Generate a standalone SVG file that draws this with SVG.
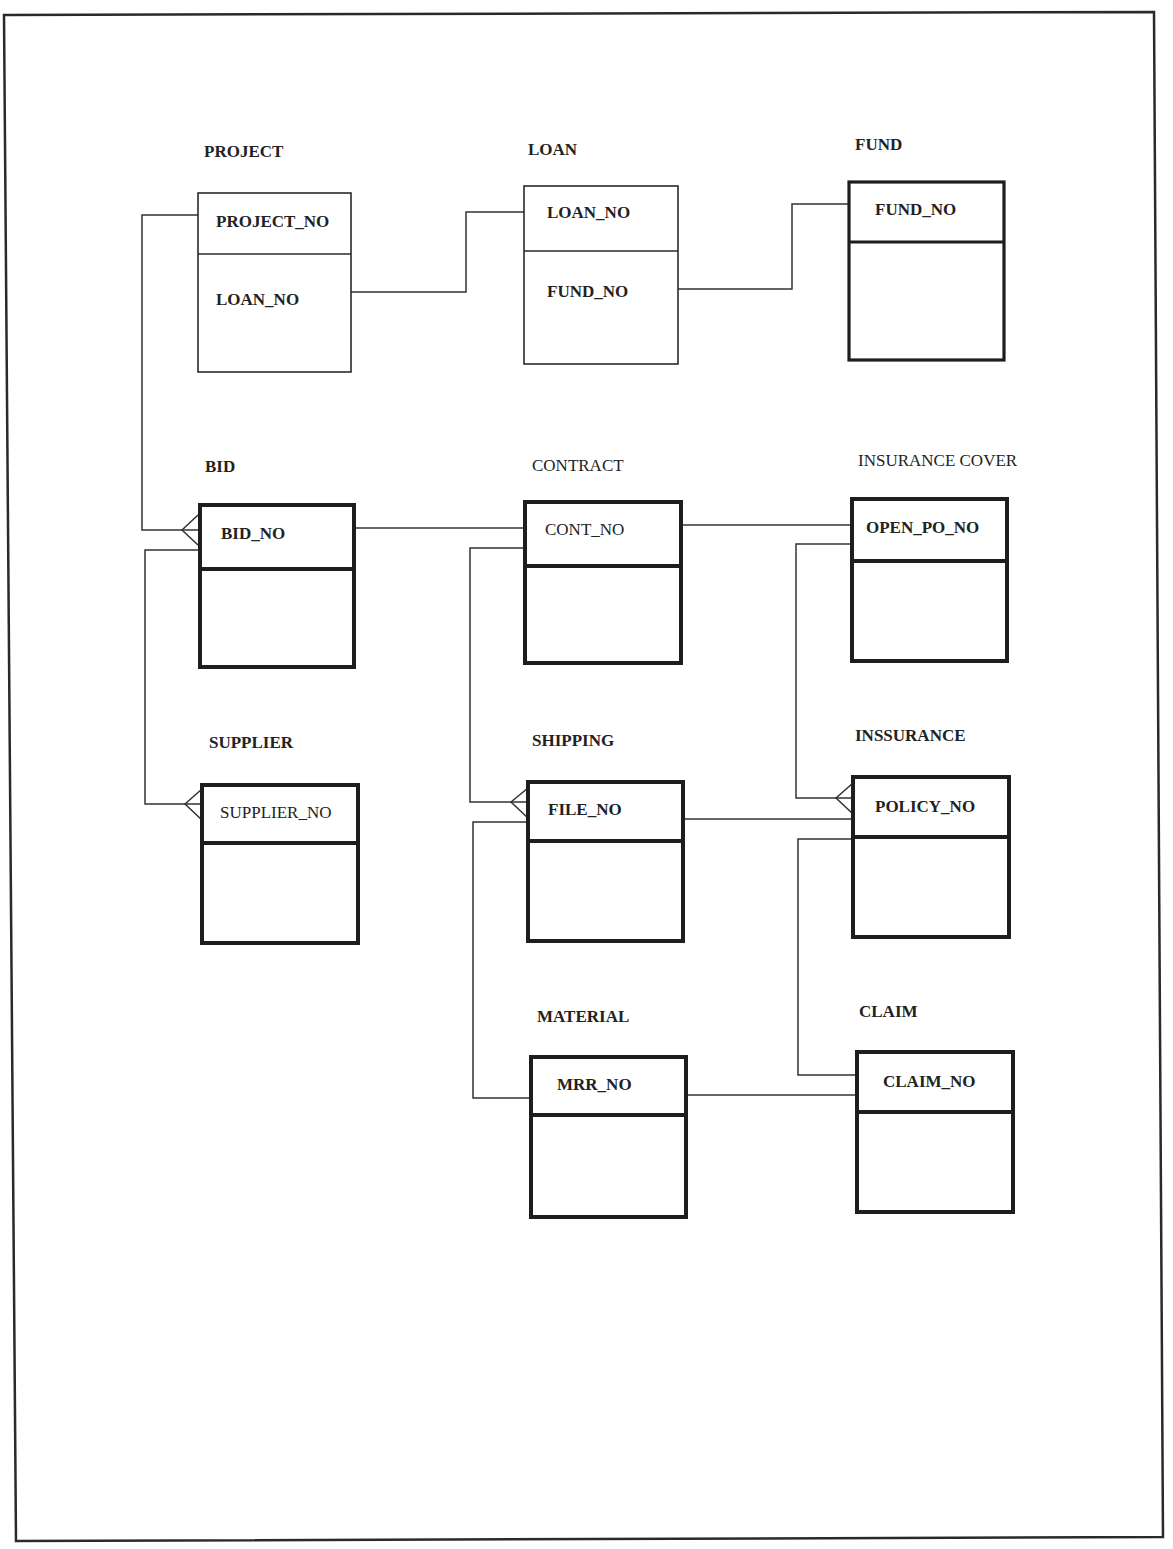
<svg xmlns="http://www.w3.org/2000/svg" width="1173" height="1549" viewBox="0 0 1173 1549">
<style>
  .bg { fill: #ffffff; }
  .frame { fill: none; stroke: #2a2a2a; stroke-width: 2.5; }
  .thin { fill: #ffffff; stroke: #2a2a2a; stroke-width: 1.6; }
  .thinl { stroke: #2a2a2a; stroke-width: 1.6; }
  .thick { fill: #ffffff; stroke: #1e1e1e; stroke-width: 4; }
  .thickl { stroke: #1e1e1e; stroke-width: 4; }
  .mid { fill: #ffffff; stroke: #1e1e1e; stroke-width: 3.2; }
  .midl { stroke: #1e1e1e; stroke-width: 3.2; }
  .conn { fill: none; stroke: #333333; stroke-width: 1.5; }
  text { font-family: "Liberation Serif", "Times New Roman", serif; font-size: 17px; fill: #222222; }
  .b { font-weight: bold; }
</style>
<rect class="bg" x="0" y="0" width="1173" height="1549"/>
<polygon class="frame" points="4,15 1154,12 1163,1537 16,1541"/>

<g id="connectors">
  <path class="conn" d="M198,215 H142 V530 H198"/>
  <path class="conn" d="M198,515 L182,530 L198,545"/>
  <path class="conn" d="M200,550 H145 V804 H202"/>
  <path class="conn" d="M202,789 L185,804 L202,820"/>
  <path class="conn" d="M351,292 H466 V212 H524"/>
  <path class="conn" d="M678,289 H792 V204 H849"/>
  <path class="conn" d="M354,528 H525"/>
  <path class="conn" d="M681,525 H852"/>
  <path class="conn" d="M525,548 H470 V802 H528"/>
  <path class="conn" d="M528,788 L511,802 L528,818"/>
  <path class="conn" d="M528,822 H473 V1098 H531"/>
  <path class="conn" d="M683,819 H853"/>
  <path class="conn" d="M852,544 H796 V798 H853"/>
  <path class="conn" d="M853,783 L836,798 L853,814"/>
  <path class="conn" d="M853,839 H798 V1075 H857"/>
  <path class="conn" d="M686,1095 H857"/>
</g>

<g id="project">
  <text class="b" x="204" y="157">PROJECT</text>
  <rect class="thin" x="198" y="193" width="153" height="179"/>
  <line class="thinl" x1="198" y1="254" x2="351" y2="254"/>
  <text class="b" x="216" y="227">PROJECT_NO</text>
  <text class="b" x="216" y="305">LOAN_NO</text>
</g>

<g id="loan">
  <text class="b" x="528" y="155">LOAN</text>
  <rect class="thin" x="524" y="186" width="154" height="178"/>
  <line class="thinl" x1="524" y1="251" x2="678" y2="251"/>
  <text class="b" x="547" y="218">LOAN_NO</text>
  <text class="b" x="547" y="297">FUND_NO</text>
</g>

<g id="fund">
  <text class="b" x="855" y="150">FUND</text>
  <rect class="mid" x="849" y="182" width="155" height="178"/>
  <line class="midl" x1="849" y1="242" x2="1004" y2="242"/>
  <text class="b" x="875" y="215">FUND_NO</text>
</g>

<g id="bid">
  <text class="b" x="205" y="472">BID</text>
  <rect class="thick" x="200" y="505" width="154" height="162"/>
  <line class="thickl" x1="200" y1="569" x2="354" y2="569"/>
  <text class="b" x="221" y="539">BID_NO</text>
</g>

<g id="contract">
  <text x="532" y="471">CONTRACT</text>
  <rect class="thick" x="525" y="502" width="156" height="161"/>
  <line class="thickl" x1="525" y1="566" x2="681" y2="566"/>
  <text x="545" y="535">CONT_NO</text>
</g>

<g id="insurance-cover">
  <text x="858" y="466">INSURANCE COVER</text>
  <rect class="thick" x="852" y="499" width="155" height="162"/>
  <line class="thickl" x1="852" y1="561" x2="1007" y2="561"/>
  <text class="b" x="866" y="533">OPEN_PO_NO</text>
</g>

<g id="supplier">
  <text class="b" x="209" y="748">SUPPLIER</text>
  <rect class="thick" x="202" y="785" width="156" height="158"/>
  <line class="thickl" x1="202" y1="843" x2="358" y2="843"/>
  <text x="220" y="818">SUPPLIER_NO</text>
</g>

<g id="shipping">
  <text class="b" x="532" y="746">SHIPPING</text>
  <rect class="thick" x="528" y="782" width="155" height="159"/>
  <line class="thickl" x1="528" y1="841" x2="683" y2="841"/>
  <text class="b" x="548" y="815">FILE_NO</text>
</g>

<g id="inssurance">
  <text class="b" x="855" y="741">INSSURANCE</text>
  <rect class="thick" x="853" y="777" width="156" height="160"/>
  <line class="thickl" x1="853" y1="837" x2="1009" y2="837"/>
  <text class="b" x="875" y="812">POLICY_NO</text>
</g>

<g id="material">
  <text class="b" x="537" y="1022">MATERIAL</text>
  <rect class="thick" x="531" y="1057" width="155" height="160"/>
  <line class="thickl" x1="531" y1="1115" x2="686" y2="1115"/>
  <text class="b" x="557" y="1090">MRR_NO</text>
</g>

<g id="claim">
  <text class="b" x="859" y="1017">CLAIM</text>
  <rect class="thick" x="857" y="1052" width="156" height="160"/>
  <line class="thickl" x1="857" y1="1112" x2="1013" y2="1112"/>
  <text class="b" x="883" y="1087">CLAIM_NO</text>
</g>
</svg>
